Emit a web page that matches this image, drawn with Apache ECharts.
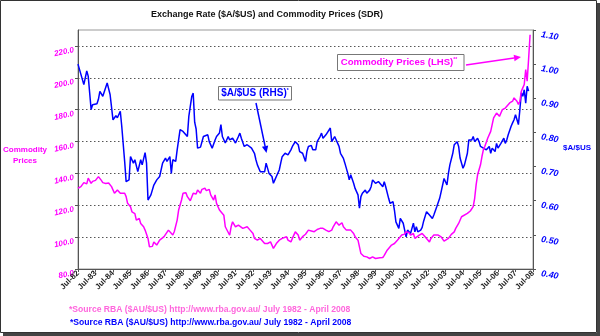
<!DOCTYPE html>
<html>
<head>
<meta charset="utf-8">
<script src="https://cdn.jsdelivr.net/npm/echarts@6/dist/echarts.min.js"></script>
<style>
html,body{margin:0;padding:0;background:#fff;}
#chart{width:600px;height:336px;}
</style>
</head>
<body>
<div id="chart"></div>
<script>
// x positions are months since Jul-1982 (0 = Jul-82, 309 = Apr-08)
const yearLabels = ['Jul-82','Jul-83','Jul-84','Jul-85','Jul-86','Jul-87','Jul-88','Jul-89','Jul-90','Jul-91','Jul-92','Jul-93','Jul-94','Jul-95','Jul-96','Jul-97','Jul-98','Jul-99','Jul-00','Jul-01','Jul-02','Jul-03','Jul-04','Jul-05','Jul-06','Jul-07','Jul-08'];

// $A/$US exchange rate (RHS)
const audMonths = [0,2,4,6,7,9,10,13,14,15,17,20,22,24,26,27,29,30,32,33,35,36,38,39,41,43,44,46,47,48,50,52,54,56,58,60,61,63,64,65,67,68,70,72,73,75,76,77,78,79,80,81,82,84,86,87,89,90,92,94,95,97,98,99,101,103,104,106,108,110,111,112,114,116,117,119,121,122,123,125,126,128,129,131,133,134,135,136,138,139,140,142,144,146,147,149,150,151,152,154,156,157,158,160,161,163,164,166,167,168,170,171,173,174,176,177,179,180,182,183,185,186,187,189,190,192,193,194,195,197,198,200,201,202,204,206,207,209,210,211,213,214,216,217,218,220,221,223,224,225,226,228,229,230,231,232,233,235,236,237,239,241,243,244,246,248,249,251,252,253,254,255,257,258,260,261,262,264,265,267,268,270,271,272,274,275,276,277,278,279,280,282,283,284,286,287,288,290,291,292,293,294,295,297,298,299,300,301,302,303,304,305,306,307,308,309];
const audValues = [1.00,0.97,0.94,0.98,0.965,0.867,0.881,0.884,0.897,0.92,0.906,0.945,0.911,0.837,0.849,0.843,0.862,0.818,0.715,0.656,0.661,0.729,0.71,0.72,0.685,0.72,0.705,0.741,0.71,0.602,0.617,0.646,0.661,0.671,0.71,0.725,0.715,0.729,0.68,0.72,0.715,0.749,0.808,0.803,0.808,0.788,0.847,0.876,0.905,0.915,0.83,0.81,0.754,0.757,0.788,0.783,0.793,0.773,0.754,0.778,0.788,0.798,0.823,0.788,0.769,0.788,0.778,0.783,0.769,0.788,0.798,0.783,0.759,0.764,0.769,0.754,0.739,0.72,0.705,0.685,0.69,0.685,0.71,0.68,0.671,0.651,0.661,0.671,0.69,0.71,0.729,0.739,0.734,0.749,0.759,0.773,0.778,0.764,0.744,0.739,0.715,0.745,0.759,0.762,0.749,0.749,0.773,0.788,0.798,0.783,0.793,0.798,0.813,0.773,0.788,0.783,0.759,0.739,0.724,0.71,0.68,0.661,0.676,0.651,0.636,0.617,0.578,0.612,0.622,0.631,0.622,0.631,0.641,0.661,0.651,0.656,0.651,0.641,0.656,0.641,0.607,0.592,0.597,0.572,0.538,0.519,0.548,0.534,0.514,0.494,0.514,0.504,0.519,0.534,0.509,0.524,0.509,0.514,0.522,0.54,0.568,0.558,0.548,0.558,0.582,0.607,0.626,0.665,0.661,0.646,0.68,0.705,0.739,0.764,0.773,0.759,0.725,0.695,0.705,0.739,0.778,0.778,0.788,0.773,0.783,0.773,0.759,0.764,0.754,0.759,0.749,0.759,0.739,0.754,0.744,0.768,0.754,0.768,0.764,0.783,0.768,0.778,0.793,0.818,0.828,0.837,0.852,0.857,0.823,0.867,0.916,0.906,0.925,0.886,0.935,0.921];

// Commodity prices, SDR (LHS)
const cmdMonths = [0,2,4,6,7,9,10,12,14,16,17,19,21,23,24,25,27,29,30,32,33,34,36,37,39,40,42,43,45,46,48,49,51,52,54,56,57,59,60,62,63,65,66,68,69,71,72,74,75,77,79,80,81,82,84,85,87,88,90,91,93,94,95,97,98,100,101,102,104,105,106,107,108,110,111,113,114,116,118,120,121,123,125,126,128,130,132,133,134,136,138,140,141,143,144,146,147,149,150,151,152,154,156,157,158,160,162,164,166,167,168,170,172,174,175,177,178,179,181,182,184,185,187,189,190,192,193,194,196,198,200,202,204,205,207,209,210,212,213,215,217,219,220,222,224,225,227,228,230,231,232,234,236,237,238,239,241,242,244,245,247,249,251,252,254,256,258,259,261,263,264,267,269,271,272,273,274,276,277,278,279,281,283,284,285,286,287,289,290,291,292,293,294,296,297,298,299,301,302,303,304,305,306,307,308,309,310];
const cmdValues = [130.7,131.7,134.2,133.4,137,133.7,135,135.6,138,135.6,134.2,133.7,134,131.7,130.7,127.5,129.6,127.5,128.5,127.5,125.4,121.2,119.1,115.9,114.8,110.7,111.7,108.6,106.5,104.4,99.2,93.9,94.2,97,95,98.1,99.2,100.3,101.3,104.4,103.4,101.3,103.4,110.7,117,123.3,127.5,127.9,125.4,122.8,127.5,127.3,127.1,129.6,127.5,130,130.7,129.2,130,126.5,123.3,126.5,121.2,117,115.9,113.8,106.5,106.5,101.2,106.5,109.6,110.7,106.5,107.5,106.5,105.5,105.5,106.5,104.4,102.3,99.2,98.1,99.2,98.1,96,96,97,95,92.9,96,98.1,99.2,98.1,100.2,98.1,97,99.2,103.3,104.4,101.3,98.1,100.3,101.8,102.3,104.4,103.9,103.4,104.8,105.5,106.5,105.5,104.4,103.4,104.4,106.5,109.6,109.6,107.5,109,106.5,104.4,103.4,104.4,102.3,100.3,98.1,93.9,89.7,88,87.6,86.6,87.6,86.6,87.6,87,87.2,88.6,91.8,92.9,95,96,98.1,99.2,101.3,101.9,103.4,102.8,101.3,102.3,99.2,100.3,101.3,102.3,102,100.2,99.5,97,99.2,101.3,102.3,101.3,100.2,97.5,97,99.2,101.7,103.3,105.5,108.6,112.8,113.8,114.9,116.4,119.1,124.4,132.8,139.1,145.4,150.6,154.9,157,162.2,166.4,170.6,174.8,175.8,177.9,175.8,177.9,180,179,181,182.1,184.2,185.3,185.3,187.4,185.3,183.2,185.3,191.6,193.7,195.8,205.2,197.9,212,227];

const leftMin = 80, leftMax = 230, leftStep = 20;
const rightMin = 0.4, rightMax = 1.1, rightStep = 0.1;

const FONT = '"Liberation Sans", Arial, sans-serif';
const MAG = '#ff00ff', BLUE = '#0000ff';

function arrow(x1, y1, x2, y2, color) {
  const a = Math.atan2(y2 - y1, x2 - x1), L = 7, W = 3.2;
  const bx = x2 - L * Math.cos(a), by = y2 - L * Math.sin(a);
  const px = -Math.sin(a) * W, py = Math.cos(a) * W;
  return [
    {type: 'line', shape: {x1: x1, y1: y1, x2: bx, y2: by}, style: {stroke: color, lineWidth: 1.5}, z: 100},
    {type: 'polygon', shape: {points: [[x2, y2], [bx + px, by + py], [bx - px, by - py]]}, style: {fill: color}, z: 100}
  ];
}

const chart = echarts.init(document.getElementById('chart'), null, {renderer: 'canvas'});
chart.setOption({
  animation: false,
  backgroundColor: '#fff',
  grid: {left: 78, right: 67, top: 30, bottom: 67, show: true, borderColor: '#999', borderWidth: 1},
  xAxis: {
    type: 'value', min: 0, max: (yearLabels.length - 1) * 12, interval: 12,
    axisLine: {lineStyle: {color: '#555'}},
    axisTick: {show: true, length: 3, lineStyle: {color: '#555'}},
    splitLine: {show: false},
    axisLabel: {rotate: 45, margin: 3, fontSize: 8, fontWeight: 'bold', color: '#222', fontFamily: FONT,
      formatter: v => yearLabels[Math.round(v / 12)] || ''}
  },
  yAxis: [
    {type: 'value', position: 'left', min: leftMin, max: leftMax, interval: leftStep,
      axisLine: {show: true, lineStyle: {color: '#555'}},
      axisTick: {show: true, length: 3, lineStyle: {color: '#555'}},
      splitLine: {show: true, showMinLine: false, showMaxLine: false, lineStyle: {color: '#555', type: [1.5, 2.5], width: 1}},
      axisLabel: {showMaxLabel: false, rotate: 12, margin: 5, fontSize: 8, fontWeight: 'bold', fontStyle: 'italic', color: MAG, fontFamily: FONT, verticalAlign: 'top',
        formatter: v => v.toFixed(1)}
    },
    {type: 'value', position: 'right', min: rightMin, max: rightMax, interval: rightStep,
      axisLine: {show: true, lineStyle: {color: '#555'}},
      axisTick: {show: true, length: 3, lineStyle: {color: '#555'}},
      splitLine: {show: false},
      axisLabel: {rotate: -10, margin: 9, fontSize: 9, fontWeight: 'bold', fontStyle: 'italic', color: BLUE, fontFamily: FONT, verticalAlign: 'top',
        formatter: v => v.toFixed(2)}
    }
  ],
  series: [
    {name: '$A/$US (RHS)', type: 'line', yAxisIndex: 1, showSymbol: false, symbol: 'none',
      lineStyle: {color: BLUE, width: 1.5}, data: audMonths.map((m, i) => [m, audValues[i]])},
    {name: 'Commodity Prices (LHS)', type: 'line', yAxisIndex: 0, showSymbol: false, symbol: 'none',
      lineStyle: {color: MAG, width: 1.5}, data: cmdMonths.map((m, i) => [m, cmdValues[i]])}
  ],
  graphic: [
    {type: 'rect', shape: {x: 0.5, y: 0.5, width: 596, height: 332}, style: {fill: 'none', stroke: '#333', lineWidth: 1}, z: 200},
    {type: 'rect', shape: {x: 597, y: 3, width: 3, height: 333}, style: {fill: '#444'}, z: 200},
    {type: 'rect', shape: {x: 3, y: 333, width: 597, height: 3}, style: {fill: '#444'}, z: 200},
    {type: 'text', x: 267, y: 15, style: {text: 'Exchange Rate ($A/$US) and Commodity Prices (SDR)', font: 'bold 9px ' + FONT, fill: '#111', textAlign: 'center', textVerticalAlign: 'middle'}},
    {type: 'text', x: 25, y: 155, style: {text: 'Commodity\nPrices', font: 'bold 8px ' + FONT, fill: MAG, textAlign: 'center', textVerticalAlign: 'middle', lineHeight: 11}},
    {type: 'text', x: 563, y: 148, style: {text: '$A/$US', font: 'bold 8px ' + FONT, fill: BLUE, textAlign: 'left', textVerticalAlign: 'middle'}},
    {type: 'rect', shape: {x: 218.5, y: 86.5, width: 73, height: 13.5}, style: {fill: '#fff', stroke: '#777', lineWidth: 1}, z: 100},
    {type: 'text', x: 255, y: 93.5, z: 101, style: {text: '{a|$A/$US (RHS)}{s|*}', textAlign: 'center', textVerticalAlign: 'middle',
      rich: {a: {font: 'bold 10px ' + FONT, fill: BLUE, color: BLUE}, s: {font: 'bold 5px ' + FONT, color: BLUE, fill: BLUE, verticalAlign: 'top', padding: [0, 0, 6, 0]}}}},
    {type: 'rect', shape: {x: 337.5, y: 54.5, width: 126.5, height: 16}, style: {fill: '#fff', stroke: '#777', lineWidth: 1}, z: 100},
    {type: 'text', x: 399, y: 62.5, z: 101, style: {text: '{a|Commodity Prices (LHS)}{s|**}', textAlign: 'center', textVerticalAlign: 'middle',
      rich: {a: {font: 'bold 9.6px ' + FONT, fill: MAG, color: MAG}, s: {font: 'bold 5px ' + FONT, color: MAG, fill: MAG, padding: [0, 0, 6, 0]}}}},
    ...arrow(256, 103, 266.5, 153, BLUE),
    ...arrow(466, 65, 521, 57, MAG),
    {type: 'text', x: 69, y: 310, style: {text: '*Source RBA ($AU/$US) http://www.rba.gov.au/ July 1982 - April 2008', font: 'bold 8.6px ' + FONT, fill: '#ff66dd', textAlign: 'left', textVerticalAlign: 'middle'}},
    {type: 'text', x: 70, y: 322.5, style: {text: '*Source RBA ($AU/$US) http://www.rba.gov.au/ July 1982 - April 2008', font: 'bold 8.6px ' + FONT, fill: BLUE, textAlign: 'left', textVerticalAlign: 'middle'}}
  ]
});
</script>
</body>
</html>
